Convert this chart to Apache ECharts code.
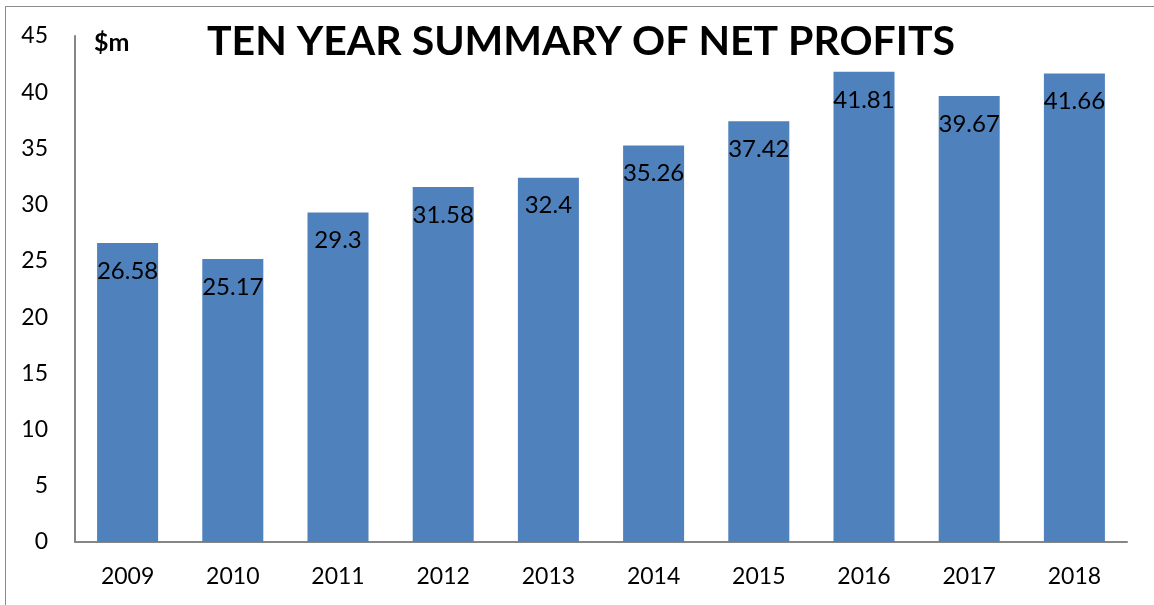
<!DOCTYPE html>
<html>
<head>
<meta charset="utf-8">
<script src="https://cdn.jsdelivr.net/npm/echarts@6/dist/echarts.min.js"></script>
<style>
html,body{margin:0;padding:0;background:#fff;}
#frame{position:absolute;left:5px;top:6px;width:1160px;height:610px;border-top:1px solid #8c8c8c;border-left:1px solid #8c8c8c;}
#chart{position:absolute;left:0;top:0;width:1154px;height:605px;}
</style>
</head>
<body>
<div id="frame"></div>
<div id="chart"></div>
<script>
const categories = ['2009','2010','2011','2012','2013','2014','2015','2016','2017','2018'];
const profits = [26.58, 25.17, 29.3, 31.58, 32.4, 35.26, 37.42, 41.81, 39.67, 41.66];
const titleText = 'TEN YEAR SUMMARY OF NET PROFITS';
const unitText = '$m';

const FONT = 'Lato, "Open Sans", sans-serif';
const chart = echarts.init(document.getElementById('chart'), null, {renderer:'canvas'});
chart.setOption({
  backgroundColor: 'transparent',
  animation: false,
  title: [
    {text: titleText, left: 207, top: 21, padding: 0, textStyle:{fontFamily:FONT, fontWeight:'bold', fontSize:41, color:'#000'}},
    {text: unitText, left: 94, top: 30, padding: 0, textStyle:{fontFamily:FONT, fontWeight:'bold', fontSize:25, color:'#000'}}
  ],
  grid: {left: 75, top: 36, right: 27, bottom: 63, containLabel: false},
  xAxis: {
    type: 'category',
    data: categories,
    axisLine: {lineStyle:{color:'#868686', width:2}},
    axisTick: {show:false},
    axisLabel: {fontFamily:FONT, fontSize:23, color:'#000', margin:23}
  },
  yAxis: {
    type: 'value',
    min: 0, max: 45, interval: 5,
    axisLine: {show:true, lineStyle:{color:'#868686', width:2}},
    axisTick: {show:false},
    splitLine: {show:false},
    axisLabel: {fontFamily:FONT, fontSize:23, color:'#000', margin:27}
  },
  series: [{
    type: 'bar',
    data: profits,
    barCategoryGap: '42%',
    itemStyle: {color:'#4F81BD'},
    label: {show:true, position:'insideTop', distance:16, fontFamily:FONT, fontSize:24, color:'#000'}
  }]
});
</script>
</body>
</html>
